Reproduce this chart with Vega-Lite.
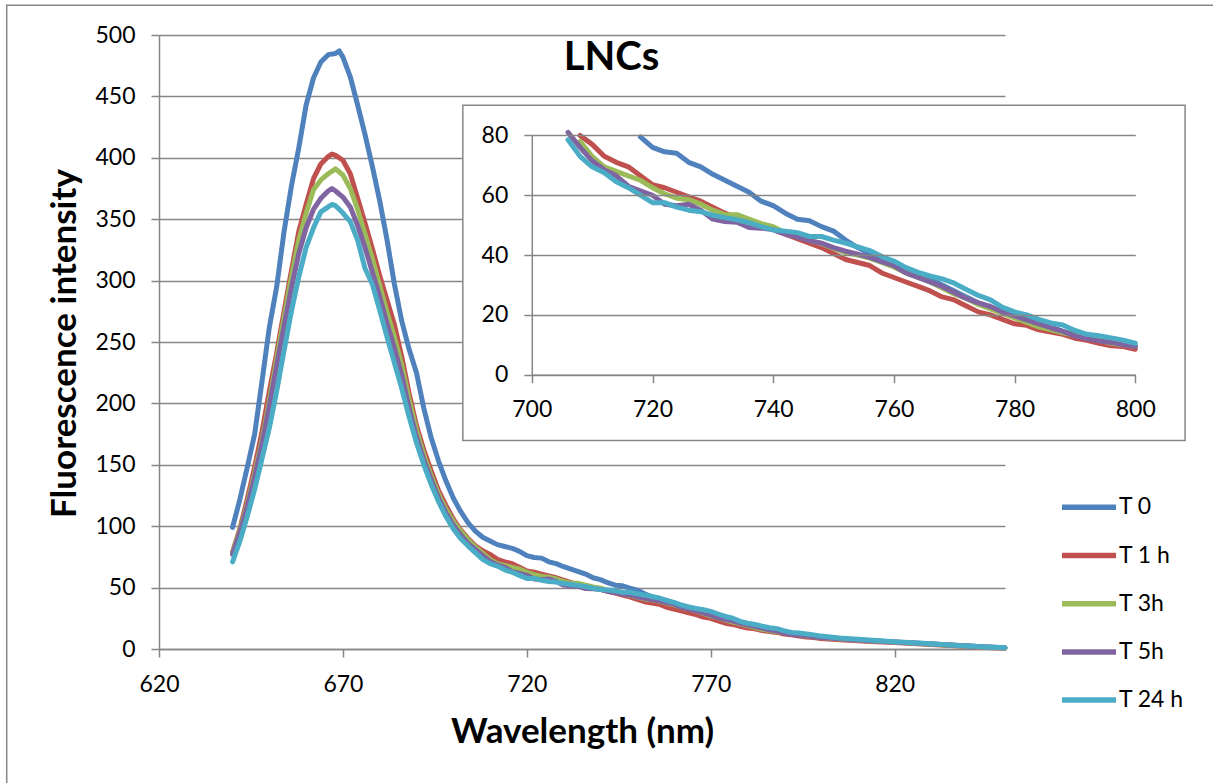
{
"$schema": "https://vega.github.io/schema/vega-lite/v6.json",
"width": 846, "height": 614,
"autosize": {"type": "none"},
"padding": {"left": 159, "top": 35, "right": 208, "bottom": 134},
"background": "white",
"title": {"text": "LNCs", "font": "Lato", "fontSize": 40, "fontWeight": "bold", "color": "#000", "anchor": "middle", "frame": "group", "baseline": "alphabetic", "offset": -105.5, "dx": 29.5},
"config": {
  "font": "Lato",
  "view": {"stroke": null},
  "axis": {"labelFont": "Lato", "labelFontSize": 23, "labelColor": "#000", "labelFlush": false, "labelOverlap": false, "titleFont": "Lato", "titleFontSize": 35, "titleFontWeight": "bold", "titleColor": "#000", "domainColor": "#868686", "tickColor": "#868686", "gridColor": "#868686", "domainWidth": 1.5, "tickWidth": 1.5, "gridWidth": 1.5, "tickSize": 8, "labelPadding": 16}
},
"data": {"values": [
{"s":"T 0","w":640,"v":99},{"s":"T 0","w":642,"v":122},{"s":"T 0","w":644,"v":148},{"s":"T 0","w":646,"v":175},{"s":"T 0","w":648,"v":218},{"s":"T 0","w":650,"v":262},{"s":"T 0","w":652,"v":295},{"s":"T 0","w":654,"v":340},{"s":"T 0","w":656,"v":377},{"s":"T 0","w":658,"v":408},{"s":"T 0","w":660,"v":443},{"s":"T 0","w":662,"v":465},{"s":"T 0","w":664,"v":478},{"s":"T 0","w":666,"v":484},{"s":"T 0","w":668,"v":485},{"s":"T 0","w":669,"v":487},{"s":"T 0","w":670,"v":482},{"s":"T 0","w":672,"v":466},{"s":"T 0","w":674,"v":443},{"s":"T 0","w":676,"v":419},{"s":"T 0","w":678,"v":393},{"s":"T 0","w":680,"v":365},{"s":"T 0","w":682,"v":333},{"s":"T 0","w":684,"v":297},{"s":"T 0","w":686,"v":267},{"s":"T 0","w":688,"v":244},{"s":"T 0","w":690,"v":225},{"s":"T 0","w":692,"v":196},{"s":"T 0","w":694,"v":172},{"s":"T 0","w":696,"v":153},{"s":"T 0","w":698,"v":137},{"s":"T 0","w":700,"v":123},{"s":"T 0","w":702,"v":112},{"s":"T 0","w":704,"v":103},{"s":"T 0","w":706,"v":96},{"s":"T 0","w":708,"v":91},{"s":"T 0","w":710,"v":88},{"s":"T 0","w":712,"v":85},{"s":"T 0","w":714,"v":83.5},{"s":"T 0","w":716,"v":82},{"s":"T 0","w":718,"v":79.5},{"s":"T 0","w":720,"v":76},{"s":"T 0","w":722,"v":74.5},{"s":"T 0","w":724,"v":74},{"s":"T 0","w":726,"v":71},{"s":"T 0","w":728,"v":69.5},{"s":"T 0","w":730,"v":67},{"s":"T 0","w":732,"v":65},{"s":"T 0","w":734,"v":63},{"s":"T 0","w":736,"v":61},{"s":"T 0","w":738,"v":58},{"s":"T 0","w":740,"v":56.5},{"s":"T 0","w":742,"v":54},{"s":"T 0","w":744,"v":52},{"s":"T 0","w":746,"v":51.5},{"s":"T 0","w":748,"v":49.5},{"s":"T 0","w":750,"v":48},{"s":"T 0","w":752,"v":45},{"s":"T 0","w":754,"v":42.5},{"s":"T 0","w":756,"v":40.5},{"s":"T 0","w":758,"v":39.5},{"s":"T 0","w":760,"v":37},{"s":"T 0","w":762,"v":35},{"s":"T 0","w":764,"v":33.5},{"s":"T 0","w":766,"v":32},{"s":"T 0","w":768,"v":30},{"s":"T 0","w":770,"v":28},{"s":"T 0","w":772,"v":26},{"s":"T 0","w":774,"v":24},{"s":"T 0","w":776,"v":22.5},{"s":"T 0","w":778,"v":21},{"s":"T 0","w":780,"v":19.5},{"s":"T 0","w":782,"v":18.5},{"s":"T 0","w":784,"v":17},{"s":"T 0","w":786,"v":16},{"s":"T 0","w":788,"v":14.5},{"s":"T 0","w":790,"v":13.5},{"s":"T 0","w":792,"v":12.5},{"s":"T 0","w":794,"v":11.5},{"s":"T 0","w":796,"v":10.5},{"s":"T 0","w":798,"v":10},{"s":"T 0","w":800,"v":9.5},{"s":"T 0","w":805,"v":8.2},{"s":"T 0","w":810,"v":7.3},{"s":"T 0","w":815,"v":6.5},{"s":"T 0","w":820,"v":5.6},{"s":"T 0","w":825,"v":4.8},{"s":"T 0","w":830,"v":4},{"s":"T 0","w":835,"v":3.2},{"s":"T 0","w":840,"v":2.4},{"s":"T 0","w":845,"v":1.6},{"s":"T 0","w":850,"v":1},
{"s":"T 1 h","w":640,"v":79},{"s":"T 1 h","w":642,"v":98},{"s":"T 1 h","w":644,"v":122},{"s":"T 1 h","w":646,"v":148},{"s":"T 1 h","w":648,"v":177},{"s":"T 1 h","w":650,"v":210},{"s":"T 1 h","w":652,"v":241},{"s":"T 1 h","w":654,"v":275},{"s":"T 1 h","w":656,"v":308},{"s":"T 1 h","w":658,"v":340},{"s":"T 1 h","w":660,"v":362},{"s":"T 1 h","w":662,"v":383},{"s":"T 1 h","w":664,"v":395},{"s":"T 1 h","w":666,"v":401},{"s":"T 1 h","w":667,"v":403},{"s":"T 1 h","w":668,"v":402},{"s":"T 1 h","w":670,"v":398},{"s":"T 1 h","w":672,"v":387},{"s":"T 1 h","w":674,"v":367},{"s":"T 1 h","w":676,"v":347},{"s":"T 1 h","w":678,"v":326},{"s":"T 1 h","w":680,"v":304},{"s":"T 1 h","w":682,"v":284},{"s":"T 1 h","w":684,"v":264},{"s":"T 1 h","w":686,"v":238},{"s":"T 1 h","w":688,"v":208},{"s":"T 1 h","w":690,"v":182},{"s":"T 1 h","w":692,"v":162},{"s":"T 1 h","w":694,"v":145},{"s":"T 1 h","w":696,"v":129},{"s":"T 1 h","w":698,"v":117},{"s":"T 1 h","w":700,"v":106},{"s":"T 1 h","w":702,"v":97},{"s":"T 1 h","w":704,"v":90},{"s":"T 1 h","w":706,"v":84},{"s":"T 1 h","w":708,"v":80},{"s":"T 1 h","w":710,"v":77},{"s":"T 1 h","w":712,"v":73},{"s":"T 1 h","w":714,"v":71},{"s":"T 1 h","w":716,"v":69.5},{"s":"T 1 h","w":718,"v":66.5},{"s":"T 1 h","w":720,"v":63.5},{"s":"T 1 h","w":722,"v":62.5},{"s":"T 1 h","w":724,"v":61},{"s":"T 1 h","w":726,"v":59.5},{"s":"T 1 h","w":728,"v":58},{"s":"T 1 h","w":730,"v":56},{"s":"T 1 h","w":732,"v":54},{"s":"T 1 h","w":734,"v":52.5},{"s":"T 1 h","w":736,"v":51.5},{"s":"T 1 h","w":738,"v":50},{"s":"T 1 h","w":740,"v":48.5},{"s":"T 1 h","w":742,"v":47},{"s":"T 1 h","w":744,"v":45.5},{"s":"T 1 h","w":746,"v":44},{"s":"T 1 h","w":748,"v":42.5},{"s":"T 1 h","w":750,"v":40.5},{"s":"T 1 h","w":752,"v":38.5},{"s":"T 1 h","w":754,"v":37.5},{"s":"T 1 h","w":756,"v":36.5},{"s":"T 1 h","w":758,"v":34},{"s":"T 1 h","w":760,"v":32.5},{"s":"T 1 h","w":762,"v":31},{"s":"T 1 h","w":764,"v":29.5},{"s":"T 1 h","w":766,"v":28},{"s":"T 1 h","w":768,"v":26},{"s":"T 1 h","w":770,"v":25},{"s":"T 1 h","w":772,"v":23},{"s":"T 1 h","w":774,"v":21},{"s":"T 1 h","w":776,"v":20},{"s":"T 1 h","w":778,"v":18.5},{"s":"T 1 h","w":780,"v":17},{"s":"T 1 h","w":782,"v":16.5},{"s":"T 1 h","w":784,"v":15},{"s":"T 1 h","w":786,"v":14.3},{"s":"T 1 h","w":788,"v":13.5},{"s":"T 1 h","w":790,"v":12.2},{"s":"T 1 h","w":792,"v":11.5},{"s":"T 1 h","w":794,"v":10.5},{"s":"T 1 h","w":796,"v":9.7},{"s":"T 1 h","w":798,"v":9.4},{"s":"T 1 h","w":800,"v":8.5},{"s":"T 1 h","w":805,"v":7.5},{"s":"T 1 h","w":810,"v":6.8},{"s":"T 1 h","w":815,"v":6},{"s":"T 1 h","w":820,"v":5.2},{"s":"T 1 h","w":825,"v":4.4},{"s":"T 1 h","w":830,"v":3.6},{"s":"T 1 h","w":835,"v":2.8},{"s":"T 1 h","w":840,"v":2},{"s":"T 1 h","w":845,"v":1.2},{"s":"T 1 h","w":850,"v":0.6},
{"s":"T 3h","w":640,"v":78},{"s":"T 3h","w":642,"v":97},{"s":"T 3h","w":644,"v":118},{"s":"T 3h","w":646,"v":143},{"s":"T 3h","w":648,"v":170},{"s":"T 3h","w":650,"v":202},{"s":"T 3h","w":652,"v":236},{"s":"T 3h","w":654,"v":270},{"s":"T 3h","w":656,"v":303},{"s":"T 3h","w":658,"v":333},{"s":"T 3h","w":660,"v":355},{"s":"T 3h","w":662,"v":374},{"s":"T 3h","w":664,"v":382},{"s":"T 3h","w":666,"v":387},{"s":"T 3h","w":668,"v":391},{"s":"T 3h","w":670,"v":386},{"s":"T 3h","w":672,"v":375},{"s":"T 3h","w":674,"v":358},{"s":"T 3h","w":676,"v":338},{"s":"T 3h","w":678,"v":318},{"s":"T 3h","w":680,"v":296},{"s":"T 3h","w":682,"v":274},{"s":"T 3h","w":684,"v":254},{"s":"T 3h","w":686,"v":231},{"s":"T 3h","w":688,"v":203},{"s":"T 3h","w":690,"v":178},{"s":"T 3h","w":692,"v":158},{"s":"T 3h","w":694,"v":141},{"s":"T 3h","w":696,"v":126},{"s":"T 3h","w":698,"v":114},{"s":"T 3h","w":700,"v":104},{"s":"T 3h","w":702,"v":96},{"s":"T 3h","w":704,"v":89},{"s":"T 3h","w":706,"v":83},{"s":"T 3h","w":708,"v":78},{"s":"T 3h","w":710,"v":73},{"s":"T 3h","w":712,"v":69.5},{"s":"T 3h","w":714,"v":68},{"s":"T 3h","w":716,"v":66.5},{"s":"T 3h","w":718,"v":65},{"s":"T 3h","w":720,"v":62.5},{"s":"T 3h","w":722,"v":60.5},{"s":"T 3h","w":724,"v":59},{"s":"T 3h","w":726,"v":58.5},{"s":"T 3h","w":728,"v":57},{"s":"T 3h","w":730,"v":55},{"s":"T 3h","w":732,"v":53.5},{"s":"T 3h","w":734,"v":53.5},{"s":"T 3h","w":736,"v":52},{"s":"T 3h","w":738,"v":50.5},{"s":"T 3h","w":740,"v":49.5},{"s":"T 3h","w":742,"v":47.5},{"s":"T 3h","w":744,"v":46.2},{"s":"T 3h","w":746,"v":45},{"s":"T 3h","w":748,"v":43.8},{"s":"T 3h","w":750,"v":42.2},{"s":"T 3h","w":752,"v":40.8},{"s":"T 3h","w":754,"v":40},{"s":"T 3h","w":756,"v":39},{"s":"T 3h","w":758,"v":37.5},{"s":"T 3h","w":760,"v":36},{"s":"T 3h","w":762,"v":34},{"s":"T 3h","w":764,"v":32.5},{"s":"T 3h","w":766,"v":31},{"s":"T 3h","w":768,"v":29},{"s":"T 3h","w":770,"v":27},{"s":"T 3h","w":772,"v":25.5},{"s":"T 3h","w":774,"v":23.5},{"s":"T 3h","w":776,"v":22},{"s":"T 3h","w":778,"v":20.5},{"s":"T 3h","w":780,"v":19},{"s":"T 3h","w":782,"v":17.5},{"s":"T 3h","w":784,"v":16},{"s":"T 3h","w":786,"v":15},{"s":"T 3h","w":788,"v":14},{"s":"T 3h","w":790,"v":13.2},{"s":"T 3h","w":792,"v":12.5},{"s":"T 3h","w":794,"v":11.5},{"s":"T 3h","w":796,"v":10.5},{"s":"T 3h","w":798,"v":10},{"s":"T 3h","w":800,"v":9.4},{"s":"T 3h","w":805,"v":8.2},{"s":"T 3h","w":810,"v":7.3},{"s":"T 3h","w":815,"v":6.4},{"s":"T 3h","w":820,"v":5.6},{"s":"T 3h","w":825,"v":4.7},{"s":"T 3h","w":830,"v":3.9},{"s":"T 3h","w":835,"v":3.1},{"s":"T 3h","w":840,"v":2.3},{"s":"T 3h","w":845,"v":1.5},{"s":"T 3h","w":850,"v":0.9},
{"s":"T 5h","w":640,"v":77},{"s":"T 5h","w":642,"v":95},{"s":"T 5h","w":644,"v":116},{"s":"T 5h","w":646,"v":140},{"s":"T 5h","w":648,"v":167},{"s":"T 5h","w":650,"v":198},{"s":"T 5h","w":652,"v":231},{"s":"T 5h","w":654,"v":263},{"s":"T 5h","w":656,"v":294},{"s":"T 5h","w":658,"v":322},{"s":"T 5h","w":660,"v":343},{"s":"T 5h","w":662,"v":358},{"s":"T 5h","w":664,"v":367},{"s":"T 5h","w":666,"v":373},{"s":"T 5h","w":667,"v":375},{"s":"T 5h","w":668,"v":373},{"s":"T 5h","w":670,"v":368},{"s":"T 5h","w":672,"v":360},{"s":"T 5h","w":674,"v":345},{"s":"T 5h","w":676,"v":327},{"s":"T 5h","w":678,"v":307},{"s":"T 5h","w":680,"v":287},{"s":"T 5h","w":682,"v":265},{"s":"T 5h","w":684,"v":245},{"s":"T 5h","w":686,"v":223},{"s":"T 5h","w":688,"v":196},{"s":"T 5h","w":690,"v":173},{"s":"T 5h","w":692,"v":154},{"s":"T 5h","w":694,"v":138},{"s":"T 5h","w":696,"v":123},{"s":"T 5h","w":698,"v":111},{"s":"T 5h","w":700,"v":101},{"s":"T 5h","w":702,"v":93},{"s":"T 5h","w":704,"v":86},{"s":"T 5h","w":706,"v":81},{"s":"T 5h","w":708,"v":76},{"s":"T 5h","w":710,"v":71.5},{"s":"T 5h","w":712,"v":68.5},{"s":"T 5h","w":714,"v":66.5},{"s":"T 5h","w":716,"v":63},{"s":"T 5h","w":718,"v":61.5},{"s":"T 5h","w":720,"v":60},{"s":"T 5h","w":722,"v":57},{"s":"T 5h","w":724,"v":56.5},{"s":"T 5h","w":726,"v":57},{"s":"T 5h","w":728,"v":55},{"s":"T 5h","w":730,"v":52},{"s":"T 5h","w":732,"v":51.2},{"s":"T 5h","w":734,"v":51},{"s":"T 5h","w":736,"v":49.2},{"s":"T 5h","w":738,"v":49},{"s":"T 5h","w":740,"v":48.5},{"s":"T 5h","w":742,"v":47},{"s":"T 5h","w":744,"v":46},{"s":"T 5h","w":746,"v":44.8},{"s":"T 5h","w":748,"v":44},{"s":"T 5h","w":750,"v":42.5},{"s":"T 5h","w":752,"v":41.3},{"s":"T 5h","w":754,"v":40.3},{"s":"T 5h","w":756,"v":39.2},{"s":"T 5h","w":758,"v":37.8},{"s":"T 5h","w":760,"v":36.5},{"s":"T 5h","w":762,"v":34},{"s":"T 5h","w":764,"v":32.5},{"s":"T 5h","w":766,"v":31},{"s":"T 5h","w":768,"v":29.5},{"s":"T 5h","w":770,"v":27.5},{"s":"T 5h","w":772,"v":25.5},{"s":"T 5h","w":774,"v":24},{"s":"T 5h","w":776,"v":22.8},{"s":"T 5h","w":778,"v":21},{"s":"T 5h","w":780,"v":19.7},{"s":"T 5h","w":782,"v":18.3},{"s":"T 5h","w":784,"v":17},{"s":"T 5h","w":786,"v":15.7},{"s":"T 5h","w":788,"v":14.5},{"s":"T 5h","w":790,"v":13},{"s":"T 5h","w":792,"v":12},{"s":"T 5h","w":794,"v":11.3},{"s":"T 5h","w":796,"v":10.8},{"s":"T 5h","w":798,"v":10},{"s":"T 5h","w":800,"v":9.4},{"s":"T 5h","w":805,"v":8.3},{"s":"T 5h","w":810,"v":7.4},{"s":"T 5h","w":815,"v":6.5},{"s":"T 5h","w":820,"v":5.7},{"s":"T 5h","w":825,"v":4.8},{"s":"T 5h","w":830,"v":4},{"s":"T 5h","w":835,"v":3.2},{"s":"T 5h","w":840,"v":2.4},{"s":"T 5h","w":845,"v":1.6},{"s":"T 5h","w":850,"v":1},
{"s":"T 24 h","w":640,"v":71},{"s":"T 24 h","w":642,"v":88},{"s":"T 24 h","w":644,"v":108},{"s":"T 24 h","w":646,"v":130},{"s":"T 24 h","w":648,"v":155},{"s":"T 24 h","w":650,"v":180},{"s":"T 24 h","w":652,"v":210},{"s":"T 24 h","w":654,"v":243},{"s":"T 24 h","w":656,"v":275},{"s":"T 24 h","w":658,"v":303},{"s":"T 24 h","w":660,"v":327},{"s":"T 24 h","w":662,"v":343},{"s":"T 24 h","w":664,"v":356},{"s":"T 24 h","w":666,"v":360},{"s":"T 24 h","w":667,"v":362},{"s":"T 24 h","w":668,"v":361},{"s":"T 24 h","w":670,"v":355},{"s":"T 24 h","w":672,"v":348},{"s":"T 24 h","w":674,"v":333},{"s":"T 24 h","w":676,"v":310},{"s":"T 24 h","w":678,"v":297},{"s":"T 24 h","w":680,"v":276},{"s":"T 24 h","w":682,"v":254},{"s":"T 24 h","w":684,"v":233},{"s":"T 24 h","w":686,"v":212},{"s":"T 24 h","w":688,"v":189},{"s":"T 24 h","w":690,"v":168},{"s":"T 24 h","w":692,"v":150},{"s":"T 24 h","w":694,"v":134},{"s":"T 24 h","w":696,"v":120},{"s":"T 24 h","w":698,"v":108},{"s":"T 24 h","w":700,"v":98},{"s":"T 24 h","w":702,"v":90},{"s":"T 24 h","w":704,"v":84},{"s":"T 24 h","w":706,"v":78.5},{"s":"T 24 h","w":708,"v":73},{"s":"T 24 h","w":710,"v":69.5},{"s":"T 24 h","w":712,"v":67.5},{"s":"T 24 h","w":714,"v":64.5},{"s":"T 24 h","w":716,"v":62.5},{"s":"T 24 h","w":718,"v":60},{"s":"T 24 h","w":720,"v":57.5},{"s":"T 24 h","w":722,"v":57.5},{"s":"T 24 h","w":724,"v":56},{"s":"T 24 h","w":726,"v":55},{"s":"T 24 h","w":728,"v":54.5},{"s":"T 24 h","w":730,"v":53.3},{"s":"T 24 h","w":732,"v":52.5},{"s":"T 24 h","w":734,"v":51.8},{"s":"T 24 h","w":736,"v":50.8},{"s":"T 24 h","w":738,"v":49.5},{"s":"T 24 h","w":740,"v":48.4},{"s":"T 24 h","w":742,"v":48},{"s":"T 24 h","w":744,"v":47.5},{"s":"T 24 h","w":746,"v":46.2},{"s":"T 24 h","w":748,"v":46.2},{"s":"T 24 h","w":750,"v":45},{"s":"T 24 h","w":752,"v":44},{"s":"T 24 h","w":754,"v":42.7},{"s":"T 24 h","w":756,"v":41.5},{"s":"T 24 h","w":758,"v":39.5},{"s":"T 24 h","w":760,"v":38},{"s":"T 24 h","w":762,"v":35.8},{"s":"T 24 h","w":764,"v":34.2},{"s":"T 24 h","w":766,"v":33},{"s":"T 24 h","w":768,"v":32},{"s":"T 24 h","w":770,"v":30.6},{"s":"T 24 h","w":772,"v":28.5},{"s":"T 24 h","w":774,"v":26.5},{"s":"T 24 h","w":776,"v":25},{"s":"T 24 h","w":778,"v":22.5},{"s":"T 24 h","w":780,"v":21},{"s":"T 24 h","w":782,"v":20},{"s":"T 24 h","w":784,"v":18.5},{"s":"T 24 h","w":786,"v":17.3},{"s":"T 24 h","w":788,"v":16.6},{"s":"T 24 h","w":790,"v":14.8},{"s":"T 24 h","w":792,"v":13.5},{"s":"T 24 h","w":794,"v":13},{"s":"T 24 h","w":796,"v":12.3},{"s":"T 24 h","w":798,"v":11.5},{"s":"T 24 h","w":800,"v":10.5},{"s":"T 24 h","w":805,"v":9},{"s":"T 24 h","w":810,"v":7.9},{"s":"T 24 h","w":815,"v":7},{"s":"T 24 h","w":820,"v":6},{"s":"T 24 h","w":825,"v":5.1},{"s":"T 24 h","w":830,"v":4.2},{"s":"T 24 h","w":835,"v":3.3},{"s":"T 24 h","w":840,"v":2.5},{"s":"T 24 h","w":845,"v":1.7},{"s":"T 24 h","w":850,"v":1.1}
]},
"layer": [
  {
    "encoding": {
      "x": {"field": "w", "type": "quantitative", "scale": {"domain": [620, 850], "nice": false, "zero": false}, "axis": {"orient": "bottom", "values": [620, 670, 720, 770, 820], "title": "Wavelength (nm)", "titlePadding": 18, "grid": false}},
      "y": {"field": "v", "type": "quantitative", "scale": {"domain": [0, 500], "nice": false}, "axis": {"orient": "left", "values": [0, 50, 100, 150, 200, 250, 300, 350, 400, 450, 500], "title": "Fluorescence intensity", "titlePadding": 12, "titleY": 308, "grid": true}}
    },
    "layer": [
      {
        "transform": [{"filter": "datum.w == 640 && datum.s == 'T 0'"}],
        "mark": {"type": "rect", "fill": "transparent", "stroke": "#868686", "strokeWidth": 1.5},
        "encoding": {"x": {"datum": 578.6, "type": "quantitative"}, "x2": {"datum": 907.4}, "y": {"datum": 524.2, "type": "quantitative"}, "y2": {"datum": -111.2}}
      },
      {
        "mark": {"type": "line", "strokeWidth": 5, "strokeJoin": "round", "strokeCap": "round"},
        "encoding": {
          "color": {"field": "s", "type": "nominal", "sort": null, "scale": {"domain": ["T 0", "T 1 h", "T 3h", "T 5h", "T 24 h"], "range": ["#4F81BD", "#C0504D", "#9BBB59", "#8064A2", "#4BACC6"]}, "legend": {"orient": "none", "legendX": 900, "legendY": 449.3, "title": null, "padding": 0, "symbolType": "stroke", "symbolSize": 2916, "symbolStrokeWidth": 5.5, "clipHeight": 46, "rowPadding": 2.2, "labelFont": "Lato", "labelFontSize": 23, "labelColor": "#000", "labelOffset": 0}}
        }
      },
      {
        "transform": [{"filter": "datum.w == 640 && datum.s == 'T 0'"}],
        "mark": {"type": "rect", "fill": "white", "stroke": "#868686", "strokeWidth": 1.5},
        "encoding": {"x": {"datum": 702.6, "type": "quantitative"}, "x2": {"datum": 898.96}, "y": {"datum": 442.8, "type": "quantitative"}, "y2": {"datum": 169.7}}
      }
    ]
  },
  {
    "transform": [{"filter": "datum.w >= 700 && datum.w <= 800 && datum.v <= 81"}],
    "mark": {"type": "line", "strokeWidth": 5, "strokeJoin": "round", "strokeCap": "round"},
    "encoding": {
      "x": {"field": "w", "type": "quantitative", "scale": {"domain": [700, 800], "range": [372.8, 976.3], "nice": false, "zero": false}, "axis": {"orient": "bottom", "offset": -274.3, "values": [700, 720, 740, 760, 780, 800], "title": null, "grid": false, "zindex": 1}},
      "y": {"field": "v", "type": "quantitative", "scale": {"domain": [0, 80], "range": [339.7, 100.4], "nice": false}, "axis": {"orient": "left", "offset": -372.8, "values": [0, 20, 40, 60, 80], "title": null, "grid": true, "zindex": 1}},
      "color": {"field": "s", "type": "nominal", "sort": null, "scale": {"domain": ["T 0", "T 1 h", "T 3h", "T 5h", "T 24 h"], "range": ["#4F81BD", "#C0504D", "#9BBB59", "#8064A2", "#4BACC6"]}, "legend": {"orient": "none", "legendX": 900, "legendY": 449.3, "title": null, "padding": 0, "symbolType": "stroke", "symbolSize": 2916, "symbolStrokeWidth": 5.5, "clipHeight": 46, "rowPadding": 2.2, "labelFont": "Lato", "labelFontSize": 23, "labelColor": "#000", "labelOffset": 0}}
    }
  }
],
"resolve": {"scale": {"x": "independent", "y": "independent"}}
}
